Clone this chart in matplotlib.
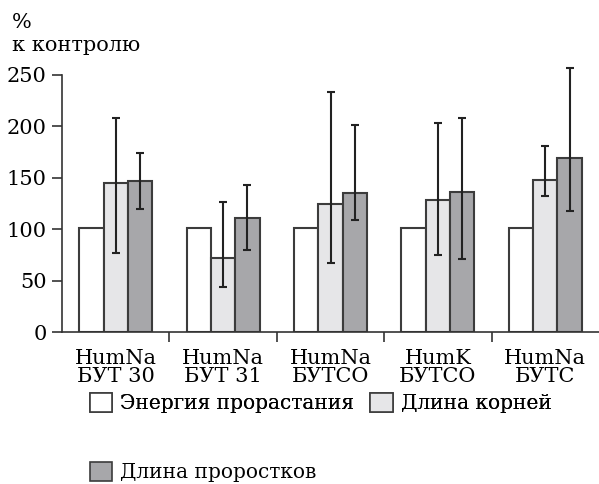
import numpy as np
import matplotlib
matplotlib.use("Agg")
import matplotlib.pyplot as plt
from matplotlib.patches import Patch

plt.rcParams['font.family'] = ['DejaVu Serif']

groups = ["HumNa\nБУТ 30", "HumNa\nБУТ 31", "HumNa\nБУТСО", "HumK\nБУТСО", "HumNa\nБУТС"]
series = ["Энергия прорастания", "Длина корней", "Длина проростков"]

energy = [101, 101, 101, 101, 101]
roots = [144.5, 72, 125, 128, 147.5]
roots_lo = [77, 44, 67, 75, 132.5]
roots_hi = [208, 126, 233, 203, 181]
sprouts = [146.5, 111, 135, 136.5, 169]
sprouts_lo = [120, 80, 109, 71, 118]
sprouts_hi = [174, 143, 201, 208, 257]

edge = "#3c3c3c"
colors = ["#ffffff", "#e6e6e8", "#a7a7aa"]

fig = plt.figure(figsize=(5.99, 4.84), dpi=100)
ax = fig.add_axes([62/599, 152/484, 537/599, 257/484])

x = np.arange(len(groups))
w = 0.226

ax.bar(x - w, energy, w, color=colors[0], edgecolor=edge, linewidth=1.5)
ax.bar(x, roots, w, color=colors[1], edgecolor=edge, linewidth=1.5)
ax.bar(x + w, sprouts, w, color=colors[2], edgecolor=edge, linewidth=1.5)

r = np.array(roots)
s = np.array(sprouts)
for xs, v, lo, hi in [(x, r, roots_lo, roots_hi), (x + w, s, sprouts_lo, sprouts_hi)]:
    eb = ax.errorbar(xs, v, yerr=[v - np.array(lo), np.array(hi) - v],
                     fmt="none", ecolor="#222222", elinewidth=1.5, capsize=3, capthick=1.5)
    for art in eb.lines[1] + eb.lines[2]:
        art.set_clip_on(False)

ax.set_xlim(-0.5, len(groups) - 0.5)
ax.set_ylim(0, 250)
ax.set_yticks([0, 50, 100, 150, 200, 250])
ax.tick_params(axis="y", labelsize=15, length=7, width=1.2, color="#333333", pad=4)
ax.set_xticks(x)
ax.set_xticklabels(groups, fontsize=15, linespacing=0.95)
ax.tick_params(axis="x", which="major", length=0, pad=12)
ax.set_xticks(x[:-1] + 0.5, minor=True)
ax.tick_params(axis="x", which="minor", length=7, width=1.2, color="#333333")

for sp in ["top", "right"]:
    ax.spines[sp].set_visible(False)
for sp in ["left", "bottom"]:
    ax.spines[sp].set_linewidth(1.2)
    ax.spines[sp].set_color("#333333")

fig.text(12/599, 1 - 13/484, "%", fontsize=15, va="top", ha="left")
fig.text(12/599, 1 - 36/484, "к контролю", fontsize=15, va="top", ha="left")

handles = [Patch(facecolor=c, edgecolor=edge, linewidth=1.2) for c in colors]
leg1 = fig.legend(handles[:2], series[:2], loc="center left", ncol=2,
                  bbox_to_anchor=(82/599, 1 - 403/484), frameon=False, fontsize=14.5,
                  handlelength=1.1, handleheight=1.1, handletextpad=0.4, columnspacing=0.8,
                  borderaxespad=0)
fig.add_artist(leg1)
fig.legend(handles[2:], series[2:], loc="center left",
           bbox_to_anchor=(82/599, 1 - 472/484), frameon=False, fontsize=14.5,
           handlelength=1.1, handleheight=1.1, handletextpad=0.4, borderaxespad=0)

fig.savefig("out.png", dpi=100)
